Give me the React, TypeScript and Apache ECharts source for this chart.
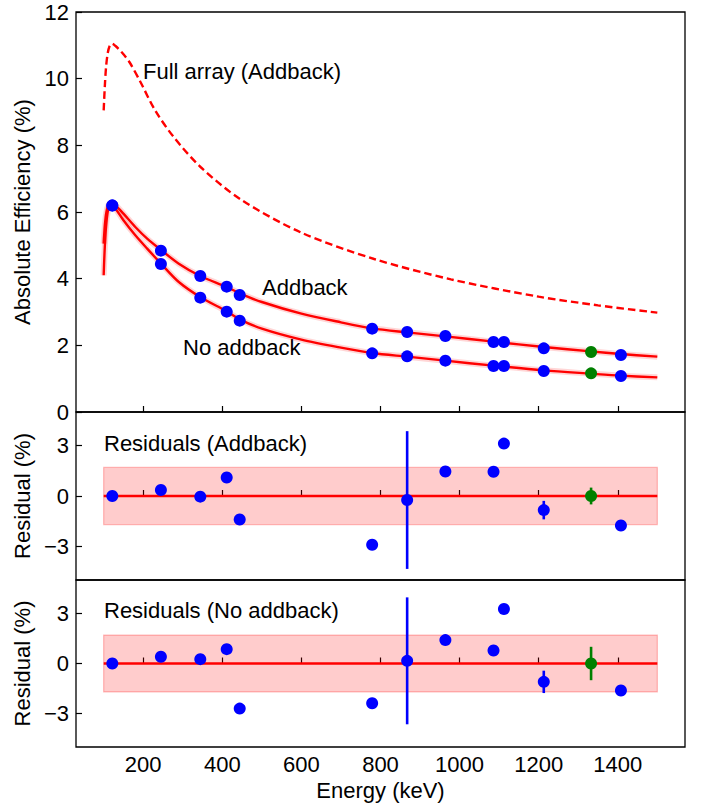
import React, { useEffect, useRef } from "react";
import * as echarts from "echarts";

const energies = [121.8, 244.7, 344.3, 411.1, 444.0, 778.9, 867.4, 964.1, 1085.8, 1112.1, 1212.9, 1408.0];
const greenEnergy = [1332.5];

const addbackPts = [6.2, 4.84, 4.08, 3.76, 3.51, 2.5, 2.4, 2.28, 2.1, 2.1, 1.91, 1.71];
const noAddPts = [6.19, 4.44, 3.43, 3.01, 2.74, 1.76, 1.67, 1.54, 1.38, 1.38, 1.23, 1.08];
const addbackGreen = [1.8];
const noAddGreen = [1.16];

const addbackCurve = [
  [100, 5.05], [103, 5.6], [107, 6.0], [112, 6.2], [120, 6.27], [130, 6.2], [150, 5.95], [180, 5.55],
  [210, 5.2], [245, 4.86], [290, 4.45], [344, 4.08], [411, 3.75], [444, 3.56], [500, 3.3], [600, 2.95],
  [700, 2.69], [779, 2.51], [867, 2.39], [964, 2.27], [1086, 2.11], [1213, 1.95], [1332, 1.82],
  [1408, 1.74], [1500, 1.66],
];
const noAddCurve = [
  [100, 4.1], [103, 5.0], [107, 5.7], [112, 6.1], [120, 6.22], [130, 6.1], [150, 5.75], [180, 5.3],
  [210, 4.9], [245, 4.45], [290, 3.9], [344, 3.45], [411, 3.02], [444, 2.78], [500, 2.5], [600, 2.17],
  [700, 1.93], [779, 1.77], [867, 1.66], [964, 1.54], [1086, 1.39], [1213, 1.25], [1332, 1.15],
  [1408, 1.09], [1500, 1.04],
];
const fullArrayCurve = [
  [100, 9.05], [103, 9.8], [106, 10.35], [110, 10.75], [115, 10.98], [121, 11.05], [130, 10.98],
  [145, 10.8], [165, 10.5], [193, 9.9], [230, 9.05], [277, 8.25], [345, 7.35], [446, 6.38],
  [600, 5.38], [784, 4.59], [978, 3.98], [1200, 3.46], [1350, 3.2], [1500, 2.98],
];

const resAddback = [0.0, 0.36, -0.04, 1.1, -1.4, -2.9, -0.24, 1.46, 1.44, 3.12, -0.84, -1.76];
const resAddbackErr = [0.1, 0.1, 0.1, 0.15, 0.1, 0.15, 4.1, 0.15, 0.15, 0.15, 0.55, 0.1];
const resAddbackGreen = [0.0];
const resAddbackGreenErr = [0.5];

const resNoAdd = [0.0, 0.4, 0.26, 0.86, -2.7, -2.38, 0.16, 1.4, 0.78, 3.26, -1.1, -1.62];
const resNoAddErr = [0.1, 0.1, 0.25, 0.3, 0.1, 0.15, 3.8, 0.15, 0.15, 0.15, 0.67, 0.1];
const resNoAddGreen = [0.0];
const resNoAddGreenErr = [1.0];

const bandHalfWidth = 1.7;
const bandRange = [100, 1500];

const xTicks = [200, 400, 600, 800, 1000, 1200, 1400];
const effTicks = [0, 2, 4, 6, 8, 10, 12];
const resTicks = [-3, 0, 3];

const FONT = "'Liberation Sans', Arial, Helvetica, sans-serif";
const BLUE = "#0000ff";
const GREEN = "#008000";
const RED = "#ff0000";

export default function App() {
  const ref = useRef<HTMLDivElement>(null);

  useEffect(() => {
    if (!ref.current) return;
    const chart = echarts.init(ref.current, undefined, { renderer: "svg" });

    const grids = [
      { left: 76, right: 18, top: 12, height: 400 },
      { left: 76, right: 18, top: 412, height: 168 },
      { left: 76, right: 18, top: 580, height: 167 },
    ].map((g) => ({ ...g, show: true, borderColor: "#000", borderWidth: 1.3, backgroundColor: "transparent" }));

    const plainFmt = (v: number) => String(v).replace("-", "\u2212");

    const xAxes = [0, 1, 2].map((i) => ({
      type: "value",
      gridIndex: i,
      min: 30,
      max: 1570,
      splitLine: { show: false },
      axisLine: { show: false },
      axisTick: { show: true, inside: true, length: 6, customValues: xTicks, lineStyle: { color: "#000", width: 1.2 } },
      axisLabel: {
        show: i === 2,
        customValues: xTicks,
        formatter: plainFmt,
        color: "#000",
        fontSize: 22,
        fontFamily: FONT,
        margin: 6,
      },
      name: i === 2 ? "Energy (keV)" : "",
      nameLocation: "middle",
      nameGap: 32,
      nameTextStyle: { color: "#000", fontSize: 22, fontFamily: FONT },
    }));

    const yAxes = [
      {
        type: "value",
        gridIndex: 0,
        min: 0,
        max: 12,
        interval: 2,
        splitLine: { show: false },
        axisLine: { show: false },
        axisTick: { show: true, inside: true, length: 6, customValues: effTicks, lineStyle: { color: "#000", width: 1.2 } },
        axisLabel: { customValues: effTicks, formatter: plainFmt, color: "#000", fontSize: 22, fontFamily: FONT, margin: 7 },
        name: "Absolute Efficiency (%)",
        nameLocation: "middle",
        nameGap: 40,
        nameTextStyle: { color: "#000", fontSize: 22, fontFamily: FONT },
      },
      ...[1, 2].map((i) => ({
        type: "value",
        gridIndex: i,
        min: -5,
        max: 5,
        splitLine: { show: false },
        axisLine: { show: false },
        axisTick: { show: true, inside: true, length: 6, customValues: resTicks, lineStyle: { color: "#000", width: 1.2 } },
        axisLabel: { customValues: resTicks, formatter: plainFmt, color: "#000", fontSize: 22, fontFamily: FONT, margin: 7 },
        name: "Residual (%)",
        nameLocation: "middle",
        nameGap: 40,
        nameTextStyle: { color: "#000", fontSize: 22, fontFamily: FONT },
      })),
    ];

    const pts = (xs: number[], ys: number[]) => xs.map((x, i) => [x, ys[i]]);
    const errPts = (xs: number[], ys: number[], es: number[]) => xs.map((x, i) => [x, ys[i], es[i]]);

    const scatter = (data: number[][], color: string, axis: number) => ({
      type: "scatter",
      xAxisIndex: axis,
      yAxisIndex: axis,
      data,
      symbol: "circle",
      symbolSize: 12,
      itemStyle: { color, opacity: 1 },
      z: 10,
      silent: true,
    });

    const errorBars = (data: number[][], color: string, axis: number) => ({
      type: "custom",
      xAxisIndex: axis,
      yAxisIndex: axis,
      data,
      encode: { x: 0, y: 1 },
      z: 8,
      silent: true,
      renderItem: (_p: any, api: any) => {
        const x = api.value(0);
        const y = api.value(1);
        const e = api.value(2);
        const a = api.coord([x, y - e]);
        const b = api.coord([x, y + e]);
        return {
          type: "line",
          shape: { x1: a[0], y1: a[1], x2: b[0], y2: b[1] },
          style: { stroke: color, lineWidth: 2.6 },
        };
      },
    });

    const curve = (data: number[][], opts: any) => ({
      type: "line",
      xAxisIndex: 0,
      yAxisIndex: 0,
      data,
      smooth: 0.3,
      showSymbol: false,
      symbol: "none",
      silent: true,
      ...opts,
    });

    const zeroLine = (axis: number) => ({
      type: "line",
      xAxisIndex: axis,
      yAxisIndex: axis,
      data: [[bandRange[0], 0], [bandRange[1], 0]],
      showSymbol: false,
      symbol: "none",
      silent: true,
      lineStyle: { color: RED, width: 2.4 },
      z: 5,
      markArea: {
        silent: true,
        itemStyle: { color: "rgba(255,0,0,0.2)", borderColor: "rgba(255,0,0,0.25)", borderWidth: 1.2 },
        data: [[{ coord: [bandRange[0], -bandHalfWidth] }, { coord: [bandRange[1], bandHalfWidth] }]],
      },
    });

    const textStyle = { fill: "#000", fontSize: 22, fontFamily: FONT };

    chart.setOption({
      animation: false,
      grid: grids,
      xAxis: xAxes,
      yAxis: yAxes,
      series: [
        curve(addbackCurve, { lineStyle: { color: "rgba(255,0,0,0.16)", width: 6 }, z: 2 }),
        curve(noAddCurve, { lineStyle: { color: "rgba(255,0,0,0.16)", width: 6 }, z: 2 }),
        curve(addbackCurve, { lineStyle: { color: RED, width: 2.4 }, z: 3 }),
        curve(noAddCurve, { lineStyle: { color: RED, width: 2.4 }, z: 3 }),
        curve(fullArrayCurve, { lineStyle: { color: RED, width: 2.4, type: [7.5, 4] }, z: 3 }),
        scatter(pts(energies, addbackPts), BLUE, 0),
        scatter(pts(energies, noAddPts), BLUE, 0),
        scatter(pts(greenEnergy, addbackGreen), GREEN, 0),
        scatter(pts(greenEnergy, noAddGreen), GREEN, 0),

        zeroLine(1),
        errorBars(errPts(energies, resAddback, resAddbackErr), BLUE, 1),
        errorBars(errPts(greenEnergy, resAddbackGreen, resAddbackGreenErr), GREEN, 1),
        scatter(pts(energies, resAddback), BLUE, 1),
        scatter(pts(greenEnergy, resAddbackGreen), GREEN, 1),

        zeroLine(2),
        errorBars(errPts(energies, resNoAdd, resNoAddErr), BLUE, 2),
        errorBars(errPts(greenEnergy, resNoAddGreen, resNoAddGreenErr), GREEN, 2),
        scatter(pts(energies, resNoAdd), BLUE, 2),
        scatter(pts(greenEnergy, resNoAddGreen), GREEN, 2),
      ],
      graphic: [
        { type: "text", left: 143, top: 60, style: { ...textStyle, text: "Full array (Addback)" } },
        { type: "text", left: 262, top: 276, style: { ...textStyle, text: "Addback" } },
        { type: "text", left: 183, top: 336, style: { ...textStyle, text: "No addback" } },
        { type: "text", left: 104, top: 432, style: { ...textStyle, text: "Residuals (Addback)" } },
        { type: "text", left: 104, top: 599, style: { ...textStyle, text: "Residuals (No addback)" } },
      ],
    });

    return () => chart.dispose();
  }, []);

  return (
    <div
      ref={ref}
      style={{ position: "fixed", left: 0, top: 0, width: 703, height: 807, background: "#fff" }}
    />
  );
}
